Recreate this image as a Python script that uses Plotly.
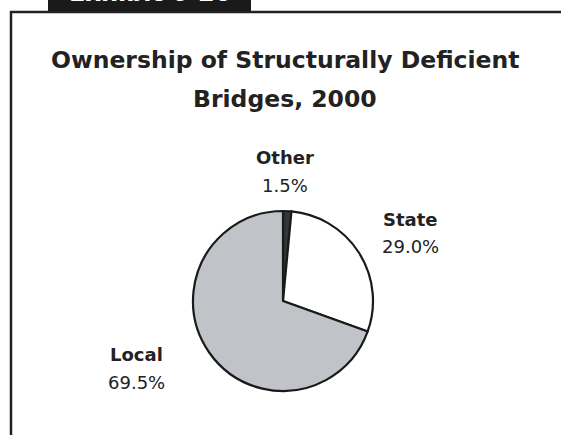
import plotly.graph_objects as go

categories = ["Other", "State", "Local"]
shares = [1.5, 29.0, 69.5]
colors = ["#2e3838", "#ffffff", "#c0c3c8"]
label_pos = {"Other": (285, 157), "State": (410, 219), "Local": (136, 354)}

W, H = 561, 435
cx, cy, r = 283, 301, 90

fig = go.Figure(go.Pie(
    labels=categories, values=shares, sort=False, direction="clockwise", rotation=0,
    marker=dict(colors=colors, line=dict(color="#1a1a1a", width=2.2)),
    textinfo="none", hoverinfo="label+percent", showlegend=False,
    domain=dict(x=[(cx - r) / W, (cx + r) / W], y=[(H - cy - r) / H, (H - cy + r) / H]),
))

anns = []
for c, v in zip(categories, shares):
    x, y = label_pos[c]
    anns.append(dict(x=x / W, y=1 - y / H, xref="paper", yref="paper", showarrow=False,
                     text=f"<b>{c}</b>", font=dict(family="DejaVu Sans", size=18, color="#222"),
                     xanchor="center", yanchor="middle"))
    anns.append(dict(x=x / W, y=1 - (y + 28) / H, xref="paper", yref="paper", showarrow=False,
                     text=f"{v:.1f}%", font=dict(family="DejaVu Sans", size=18, color="#222"),
                     xanchor="center", yanchor="middle"))

anns.append(dict(x=285 / W, y=1 - 60 / H, xref="paper", yref="paper", showarrow=False,
                 text="<b>Ownership of Structurally Deficient</b>",
                 font=dict(family="DejaVu Sans", size=23.5, color="#222"), xanchor="center", yanchor="middle"))
anns.append(dict(x=285 / W, y=1 - 99 / H, xref="paper", yref="paper", showarrow=False,
                 text="<b>Bridges, 2000</b>",
                 font=dict(family="DejaVu Sans", size=23.5, color="#222"), xanchor="center", yanchor="middle"))
anns.append(dict(x=150 / W, y=1 - 9 / H, xref="paper", yref="paper", showarrow=False,
                 text="<b>Exhibit 6-20</b>", font=dict(family="DejaVu Sans", size=24, color="white"),
                 xanchor="center", yanchor="bottom"))

shapes = [
    dict(type="rect", xref="paper", yref="paper", x0=48 / W, x1=251 / W, y0=1 - 12 / H, y1=1.05,
         fillcolor="#1a1a1a", line=dict(width=0), layer="below"),
    dict(type="line", xref="paper", yref="paper", x0=10 / W, x1=1.0, y0=1 - 12 / H, y1=1 - 12 / H,
         line=dict(color="#222", width=2.5)),
    dict(type="line", xref="paper", yref="paper", x0=11 / W, x1=11 / W, y0=1 - 11 / H, y1=0,
         line=dict(color="#222", width=2.5)),
]

fig.update_layout(width=W, height=H, margin=dict(l=0, r=0, t=0, b=0),
                  paper_bgcolor="white", plot_bgcolor="white",
                  annotations=anns, shapes=shapes)
fig.write_html("out.html")
